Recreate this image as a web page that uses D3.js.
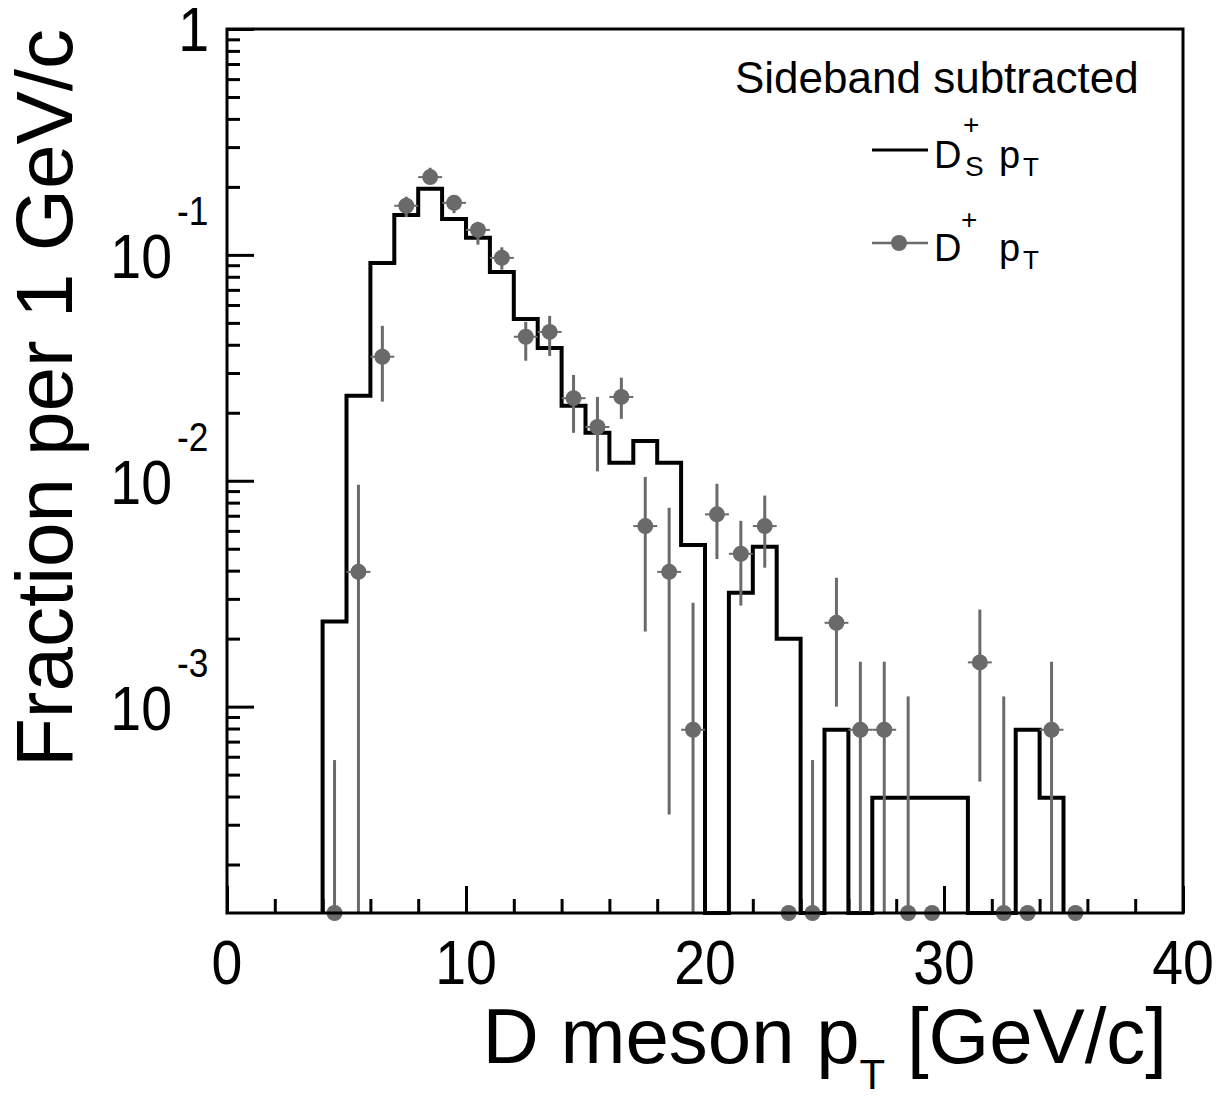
<!DOCTYPE html>
<html>
<head>
<meta charset="utf-8">
<script src="https://cdn.jsdelivr.net/npm/d3@7"></script>
<style>
body{margin:0;background:#fff}
svg{display:block}
text{font-family:"Liberation Sans",Arial,Helvetica,sans-serif;fill:#000}
</style>
</head>
<body>
<div id="wrapper"></div>
<script>
// D_s+ pT histogram, 1 GeV/c bins (low edge -> fraction)
const dsBinLow = [4,5,6,7,8,9,10,11,12,13,14,15,16,17,18,19,20,21,22,23,24,25,26,27,28,29,30,31,32,33,34];
const dsValues = [0.00238,0.0238,0.092,0.150,0.196,0.144,0.119,0.084,0.052,0.0387,0.0215,0.0163,0.0120,0.0150,0.0120,0.0052,
                  0,0.00319,0.0051,0.0020,0,0.00079,0,0.000395,0.000395,0.000395,0.000395,0,0,0.00079,0.000395];

// D+ pT points: bin centre, value, lower / upper end of error bar (0 = down to axis / none)
const dpX   = [4.5,5.5,6.5,7.5,8.5,9.5,10.5,11.5,12.5,13.5,14.5,15.5,16.5,17.5,18.5,19.5,20.5,21.5,22.5,23.5,24.5,25.5,26.5,27.5,28.5,29.5,31.5,32.5,33.5,34.5,35.5];
const dpVal = [0,0.00395,0.0354,0.165,0.221,0.170,0.129,0.097,0.0434,0.0456,0.0232,0.0173,0.0235,0.0063,0.00395,0.00079,0.0071,0.00475,0.0063,0,0,0.00235,0.00079,0.00079,0,0,0.00157,0,0,0.00079,0];
const dpLo  = [0,0,0.0224,0.147,0.208,0.153,0.111,0.086,0.034,0.0357,0.0163,0.011,0.0188,0.00215,0.000333,0,0.0045,0.0028,0.00412,0,0,0.0010,0,0,0,0,0.000466,0,0,0,0];
const dpHi  = [0.00058,0.0096,0.0485,0.181,0.243,0.184,0.140,0.108,0.0505,0.0537,0.0294,0.0235,0.0286,0.0104,0.0076,0.00288,0.0097,0.00665,0.0086,0,0.00058,0.00372,0.00158,0.00158,0.00111,0,0.00269,0.00111,0,0.00158,0];

const xMajor = [0,10,20,30,40];
const xMinor = [2,4,6,8,12,14,16,18,22,24,26,28,32,34,36,38];
const yDecades = [0,-1,-2,-3];

const dim = {width:1230,height:1099,left:227,top:29,right:1183,bottom:913};
const yMin = 1.22e-4;

const svg = d3.select("#wrapper").append("svg")
  .attr("width",dim.width).attr("height",dim.height);

const x = d3.scaleLinear().domain([0,40]).range([dim.left,dim.right]);
const y = d3.scaleLog().domain([yMin,1]).range([dim.bottom,dim.top]);
const yc = v => v>0 ? Math.min(y(Math.max(v,yMin)),dim.bottom) : dim.bottom;

// minor y ticks 2..9 x 10^k
const yMinor = [];
[-4,-3,-2,-1].forEach(k => {
  [2,3,4,5,6,7,8,9].forEach(m => { const v = m*Math.pow(10,k); if (v>yMin && v<1) yMinor.push(v); });
});

// ticks
const tickStyle = g => { g.select(".domain").remove(); g.selectAll("line").attr("stroke","#000").attr("stroke-width",3); };
svg.append("g").attr("transform",`translate(0,${dim.bottom})`)
  .call(d3.axisBottom(x).tickValues(xMinor).tickSize(-14).tickFormat("")).call(tickStyle);
svg.append("g").attr("transform",`translate(0,${dim.bottom})`)
  .call(d3.axisBottom(x).tickValues(xMajor).tickSize(-27).tickFormat("")).call(tickStyle);
svg.append("g").attr("transform",`translate(${dim.left},0)`)
  .call(d3.axisLeft(y).tickValues(yMinor).tickSize(-13).tickFormat("")).call(tickStyle);
svg.append("g").attr("transform",`translate(${dim.left},0)`)
  .call(d3.axisLeft(y).tickValues(yDecades.map(e=>Math.pow(10,e))).tickSize(-27).tickFormat("")).call(tickStyle);

// D_s histogram
const histPts = [[dsBinLow[0],0]];
dsBinLow.forEach((lo,i) => { histPts.push([lo,dsValues[i]]); histPts.push([lo+1,dsValues[i]]); });
histPts.push([dsBinLow[dsBinLow.length-1]+1,0]);
svg.append("path")
  .attr("d",d3.line().x(d=>x(d[0])).y(d=>yc(d[1]))(histPts))
  .attr("fill","none").attr("stroke","#000").attr("stroke-width",4)
  .attr("stroke-linejoin","miter");

// D+ points
const grey = "#6a6a6a";
const pts = dpX.map((c,i)=>({c,v:dpVal[i],lo:dpLo[i],hi:dpHi[i]}));
const pg = svg.append("g");
pg.selectAll("line.ev").data(pts.filter(d=>d.hi>0)).enter().append("line")
  .attr("x1",d=>x(d.c)).attr("x2",d=>x(d.c))
  .attr("y1",d=>y(d.hi)).attr("y2",d=>yc(d.lo))
  .attr("stroke",grey).attr("stroke-width",3);
pg.selectAll("line.eh").data(pts.filter(d=>d.v>0)).enter().append("line")
  .attr("x1",d=>x(d.c-0.5)).attr("x2",d=>x(d.c+0.5))
  .attr("y1",d=>y(d.v)).attr("y2",d=>y(d.v))
  .attr("stroke",grey).attr("stroke-width",2);
pg.selectAll("circle").data(pts).enter().append("circle")
  .attr("cx",d=>x(d.c)).attr("cy",d=>yc(d.v)).attr("r",8)
  .attr("fill",grey);

// frame
svg.append("rect").attr("x",dim.left).attr("y",dim.top)
  .attr("width",dim.right-dim.left).attr("height",dim.bottom-dim.top)
  .attr("fill","none").attr("stroke","#000").attr("stroke-width",3);

// x tick labels (narrow digits)
svg.selectAll("text.xl").data(xMajor).enter().append("text")
  .attr("transform",d=>`translate(${x(d)},984) scale(0.88,1)`)
  .attr("text-anchor","middle").attr("font-size",63).text(d=>d);

// y tick labels
yDecades.forEach(e => {
  const yy = y(Math.pow(10,e));
  if (e===0) {
    svg.append("text").attr("transform",`translate(209,${yy+22}) scale(0.88,1)`)
      .attr("text-anchor","end").attr("font-size",63).text("1");
  } else {
    svg.append("text").attr("transform",`translate(172,${yy+23}) scale(0.88,1)`)
      .attr("text-anchor","end").attr("font-size",63).text("10");
    svg.append("text").attr("transform",`translate(177,${yy-30}) scale(0.88,1)`)
      .attr("text-anchor","start").attr("font-size",40).text(String(e));
  }
});

// axis titles
svg.append("text").attr("transform",`translate(72,${dim.top}) rotate(-90)`)
  .attr("text-anchor","end").attr("font-size",80).text("Fraction per 1 GeV/c");
const xt = svg.append("text").attr("x",1167).attr("y",1063)
  .attr("text-anchor","end").attr("font-size",78);
xt.append("tspan").text("D meson p");
xt.append("tspan").attr("font-size",42).attr("dy",26).text("T");
xt.append("tspan").attr("dy",-26).text(" [GeV/c]");

// legend
svg.append("text").attr("x",735).attr("y",93).attr("font-size",44).text("Sideband subtracted");
svg.append("line").attr("x1",872).attr("x2",928).attr("y1",150).attr("y2",150)
  .attr("stroke","#000").attr("stroke-width",3);
svg.append("text").attr("x",934).attr("y",168).attr("font-size",38).text("D");
svg.append("text").attr("x",963).attr("y",134).attr("font-size",28).text("+");
svg.append("text").attr("x",965).attr("y",176).attr("font-size",28).text("S");
svg.append("text").attr("x",999).attr("y",168).attr("font-size",38).text("p");
svg.append("text").attr("x",1023).attr("y",176).attr("font-size",26).text("T");

svg.append("line").attr("x1",872).attr("x2",928).attr("y1",243).attr("y2",243)
  .attr("stroke",grey).attr("stroke-width",2.5);
svg.append("circle").attr("cx",899).attr("cy",243).attr("r",8).attr("fill",grey);
svg.append("text").attr("x",934).attr("y",261).attr("font-size",38).text("D");
svg.append("text").attr("x",961).attr("y",229).attr("font-size",28).text("+");
svg.append("text").attr("x",999).attr("y",261).attr("font-size",38).text("p");
svg.append("text").attr("x",1023).attr("y",269).attr("font-size",26).text("T");
</script>
</body>
</html>
